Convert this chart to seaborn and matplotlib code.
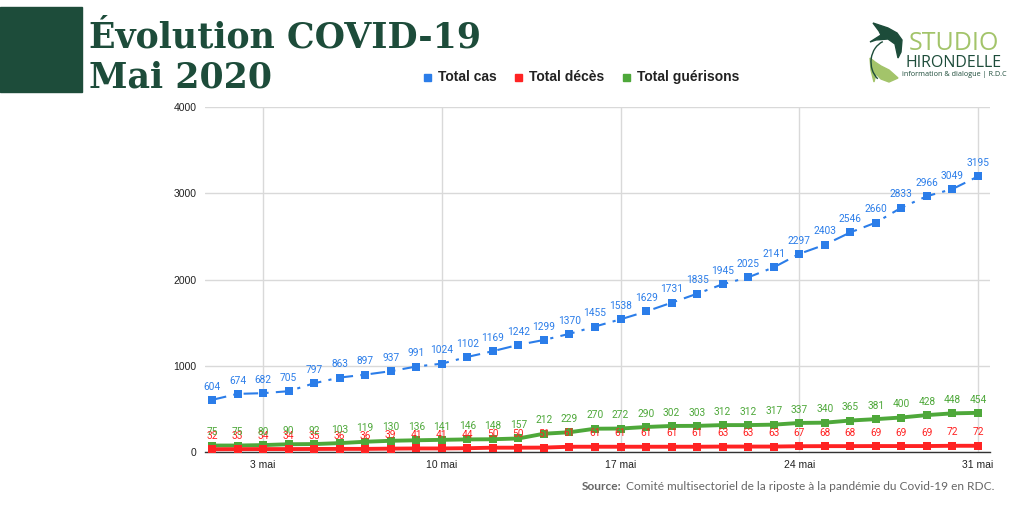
import matplotlib
matplotlib.use("Agg")
import matplotlib.pyplot as plt
import seaborn as sns
import numpy as np
import pandas as pd
from matplotlib.patches import Rectangle, Polygon, Arc

days = list(range(1, 32))
total_cas = [604, 674, 682, 705, 797, 863, 897, 937, 991, 1024, 1102, 1169, 1242, 1299,
             1370, 1455, 1538, 1629, 1731, 1835, 1945, 2025, 2141, 2297, 2403, 2546, 2660,
             2833, 2966, 3049, 3195]
total_deces = [32, 33, 34, 34, 35, 36, 36, 39, 41, 41, 44, 50, 50, 51, 61, 61, 61, 61, 61,
               61, 63, 63, 63, 67, 68, 68, 69, 69, 69, 72, 72]
total_guerisons = [75, 75, 80, 90, 92, 103, 119, 130, 136, 141, 146, 148, 157, 212, 229,
                   270, 272, 290, 302, 303, 312, 312, 317, 337, 340, 365, 381, 400, 428,
                   448, 454]
tick_days = [3, 10, 17, 24, 31]
tick_labels = ["3 mai", "10 mai", "17 mai", "24 mai", "31 mai"]
series_names = ["Total cas", "Total décès", "Total guérisons"]

BLUE = "#2b7de9"
RED = "#ff2323"
GREEN = "#4ea83a"
DARK = "#1d4c3a"
LIGHT = "#a3c46a"

sns.set_theme(style="white")
plt.rcParams['font.family'] = ['Liberation Sans', 'DejaVu Sans']

W, H = 1024, 512
fig = plt.figure(figsize=(10.24, 5.12), dpi=100)
ax = fig.add_axes([205/W, 1-452/H, (990-205)/W, (452-107)/H])

df = pd.DataFrame({"day": days, "cas": total_cas, "deces": total_deces, "guer": total_guerisons})

sns.lineplot(data=df, x="day", y="guer", ax=ax, color=GREEN, linewidth=2.8,
             marker="s", markersize=5.5, markeredgewidth=0, zorder=3)
sns.lineplot(data=df, x="day", y="deces", ax=ax, color=RED, linewidth=2.8,
             marker="s", markersize=5.5, markeredgewidth=0, zorder=3)
sns.lineplot(data=df, x="day", y="cas", ax=ax, color=BLUE, linewidth=1.5,
             marker="s", markersize=5.5, markeredgewidth=0, zorder=4)
ax.lines[-1].set_dashes([7, 3.5, 1.5, 3.5])

for vals, col in [(total_deces, RED), (total_guerisons, GREEN), (total_cas, BLUE)]:
    for d, v in zip(days, vals):
        ax.annotate(str(v), (d, v), xytext=(0, 6), textcoords="offset points",
                    ha="center", va="bottom", fontsize=7.3, color=col,
                    family=['Roboto', 'DejaVu Sans'], zorder=5)

ax.set_xlim(1 - 7/25.53, 31 + 12/25.53)
ax.set_ylim(0, 4000)
ax.set_yticks([0, 1000, 2000, 3000, 4000])
ax.set_yticklabels(["0", "1000", "2000", "3000", "4000"], fontsize=7.5, color="#222222")
ax.set_xticks(tick_days)
ax.set_xticklabels(tick_labels, fontsize=7.5, color="#222222")
ax.tick_params(axis="both", length=0, pad=6)
ax.set_xlabel("")
ax.set_ylabel("")
ax.grid(True, color="#d9d9d9", linewidth=1)
ax.set_axisbelow(True)
for s in ["top", "right", "left"]:
    ax.spines[s].set_visible(False)
ax.spines["bottom"].set_color("#333333")
ax.spines["bottom"].set_linewidth(1)

def P(x, y):
    return (x / W, 1 - y / H)

# Title block
fig.patches.append(Rectangle(P(0, 92), 82/W, 85/H, transform=fig.transFigure,
                             color=DARK, zorder=0))
fig.text(*P(89, 47), "Évolution COVID-19", fontsize=25, fontweight="bold",
         color=DARK, family=['DejaVu Serif'], va="baseline", ha="left")
fig.text(*P(89, 88), "Mai 2020", fontsize=25, fontweight="bold",
         color=DARK, family=['DejaVu Serif'], va="baseline", ha="left")

# Legend
leg_y = 77
items = [(424, BLUE, series_names[0]), (515, RED, series_names[1]), (623, GREEN, series_names[2])]
for x, c, t in items:
    fig.patches.append(Rectangle(P(x, leg_y + 3.5), 7/W, 7/H,
                                 transform=fig.transFigure, color=c))
    fig.text(*P(x + 14, leg_y), t, fontsize=10, fontweight="bold", color="#222222",
             va="center", ha="left")

# Logo
fig.text(*P(954, 44), "STUDIO", fontsize=18, color=LIGHT, ha="center",
         va="center", family=['Open Sans'])
fig.text(*P(954, 63), "HIRONDELLE", fontsize=11.5, color=DARK, ha="center",
         va="center", family=['Open Sans'])
fig.text(*P(954, 75), "information & dialogue | R.D.C", fontsize=5.2, color=DARK,
         ha="center", va="center", family=['Open Sans'])
bird1 = [(873, 23), (888, 28), (897, 33), (902, 40), (901, 52), (898, 58), (895, 44),
         (888, 39), (876, 40), (870, 42), (881, 35), (879, 31)]
bird2 = [(870, 58), (875, 62), (881, 66), (889, 70), (898, 78), (889, 82),
         (881, 79), (876, 74), (874, 82), (871, 70)]
fig.patches.append(Polygon([P(*p) for p in bird1], closed=True, transform=fig.transFigure,
                           color=DARK))
fig.patches.append(Polygon([P(*p) for p in bird2], closed=True, transform=fig.transFigure,
                           color=LIGHT))
fig.patches.append(Arc(P(890, 62), 38/W, 44/H, theta1=100, theta2=250,
                       transform=fig.transFigure, color=DARK, linewidth=1))

# Source
fig.canvas.draw()
r = fig.canvas.get_renderer()
t1 = fig.text(*P(582, 487), "Source:", fontsize=8.6, color="#666666", fontweight="bold",
              ha="left", va="center", family=['Lato', 'DejaVu Sans'])
bb = t1.get_window_extent(renderer=r)
fig.text(bb.x1 / W + 4/W, 1 - 487/H,
         "Comité multisectoriel de la riposte à la pandémie du Covid-19 en RDC.",
         fontsize=8.6, color="#666666", ha="left", va="center", family=['Lato', 'DejaVu Sans'])

fig.savefig("out.png", dpi=100)
